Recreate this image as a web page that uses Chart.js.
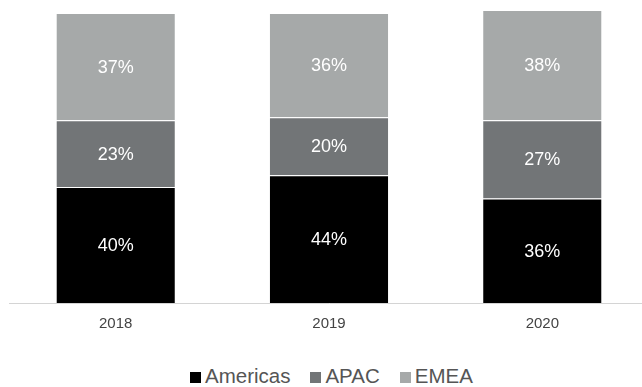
<!DOCTYPE html>
<html>
<head>
<meta charset="utf-8">
<script src="https://cdn.jsdelivr.net/npm/chart.js@4/dist/chart.umd.min.js"></script>
<style>
    html, body { margin: 0; padding: 0; background: #fff; }
    body { width: 642px; height: 387px; overflow: hidden; position: relative; font-family: "Liberation Sans", Arial, sans-serif; }
    #wrap { position: absolute; left: 0; top: 0; width: 660px; height: 340px; }
    #legend { position: absolute; left: 190px; top: 364px; display: flex; align-items: center; font-size: 20.5px; color: #555; line-height: 24px; }
    #legend .item { display: flex; align-items: center; margin-right: 20px; }
    #legend .box { width: 11px; height: 11px; margin-right: 4px; margin-top: 3px; }
</style>
</head>
<body>
<div id="wrap"><canvas id="regionChart"></canvas></div>
<div id="legend"></div>

<script>
// share of revenue by region, per year
const years = ['2018', '2019', '2020'];
const americas = [40, 44, 36];
const apac = [23, 20, 27];
const emea = [37, 36, 38];

const regionNames = ['Americas', 'APAC', 'EMEA'];
const regionColors = ['#000000', '#727577', '#a6a9a9'];

// tallest stack sets the top of the axis
function stackMax() {
    let max = 0;
    for (let i = 0; i < years.length; i++) {
        max = Math.max(max, americas[i] + apac[i] + emea[i]);
    }
    return max;
}

// percent text in the middle of each segment
const segmentLabels = {
    id: 'segmentLabels',
    afterDatasetsDraw(chart) {
        const ctx = chart.ctx;
        ctx.save();
        ctx.fillStyle = '#ffffff';
        ctx.font = '18px "Liberation Sans", Arial, sans-serif';
        ctx.textAlign = 'center';
        ctx.textBaseline = 'middle';
        chart.data.datasets.forEach(function(ds, i) {
            chart.getDatasetMeta(i).data.forEach(function(bar, j) {
                const p = bar.getProps(['x', 'y', 'base'], true);
                ctx.fillText(ds.data[j] + '%', p.x, (p.y + p.base) / 2 + 1);
            });
        });
        ctx.restore();
    }
};

function makeDataset(idx, values) {
    return {
        label: regionNames[idx],
        data: values,
        backgroundColor: regionColors[idx],
        borderColor: '#ffffff',
        borderWidth: { top: 1, left: 0, right: 0, bottom: 0 },
        borderSkipped: false,
        barPercentage: 0.555,
        categoryPercentage: 1.0
    };
}

new Chart(document.getElementById('regionChart'), {
    type: 'bar',
    data: {
        labels: years,
        datasets: [
            makeDataset(0, americas),
            makeDataset(1, apac),
            makeDataset(2, emea)
        ]
    },
    options: {
        responsive: true,
        maintainAspectRatio: false,
        animation: false,
        layout: { padding: { left: 9, right: 11, top: 10, bottom: 0 } },
        plugins: {
            legend: { display: false },
            tooltip: { enabled: false }
        },
        scales: {
            x: {
                stacked: true,
                grid: { display: false, drawTicks: false },
                border: { display: true, color: '#d4d4d4', width: 1 },
                ticks: {
                    padding: 12,
                    color: '#444',
                    font: { family: '"Liberation Sans", Arial, sans-serif', size: 15 }
                },
                afterFit: function(scale) { scale.height = 37; }
            },
            y: {
                stacked: true,
                display: false,
                min: 0,
                max: stackMax()
            }
        }
    },
    plugins: [segmentLabels]
});

// legend row under the chart
const legend = document.getElementById('legend');
regionNames.forEach(function(name, i) {
    const item = document.createElement('div');
    item.className = 'item';
    const box = document.createElement('span');
    box.className = 'box';
    box.style.background = regionColors[i];
    const text = document.createElement('span');
    text.textContent = name;
    item.appendChild(box);
    item.appendChild(text);
    legend.appendChild(item);
});
</script>
</body>
</html>
